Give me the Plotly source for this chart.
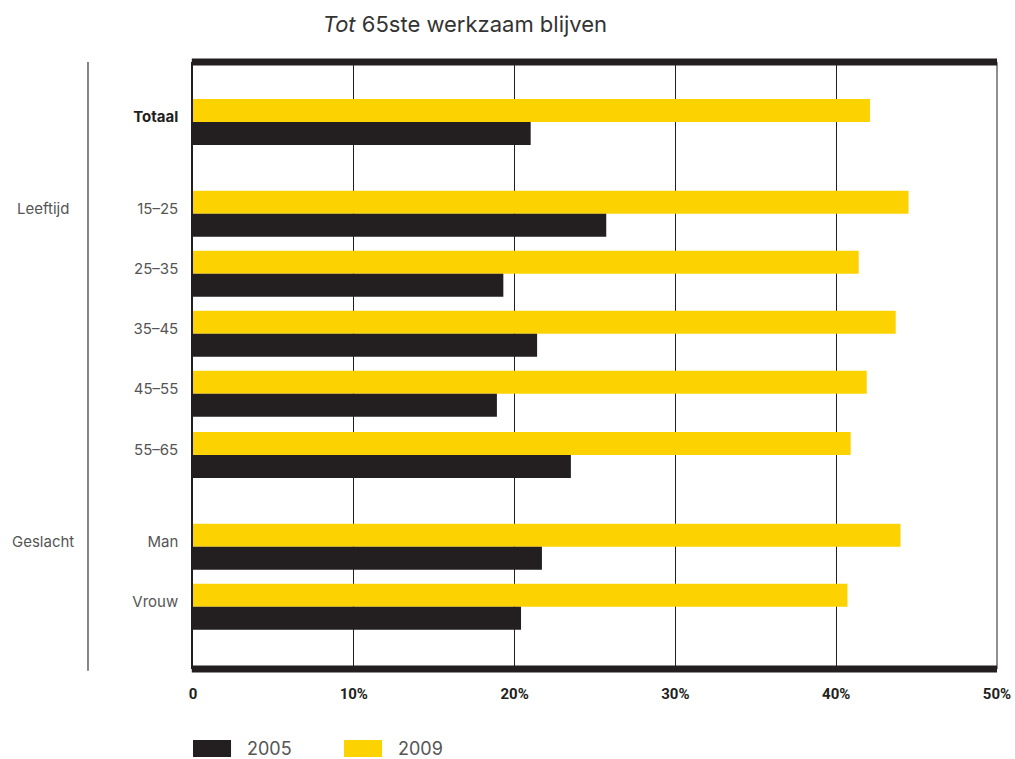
import plotly.graph_objects as go

categories = ["<span style='color:#231F20'><b>Totaal</b></span>", "15–25", "25–35", "35–45",
              "45–55", "55–65", "Man", "Vrouw"]
row_pos = [0.0, 1.53, 2.53, 3.53, 4.53, 5.55, 7.08, 8.08]
values_2005 = [21.0, 25.7, 19.3, 21.4, 18.9, 23.5, 21.7, 20.4]
values_2009 = [42.1, 44.5, 41.4, 43.7, 41.9, 40.9, 44.0, 40.7]
x_ticks = [0, 10, 20, 30, 40, 50]
x_tick_labels = ["0", "10%", "20%", "30%", "40%", "50%"]
groups = [("Leeftijd", 1.53), ("Geslacht", 7.08)]
series_names = ["2005", "2009"]

BLACK = "#231F20"
YELLOW = "#FCD200"
GREY = "#555555"
FONT = "Inter, Roboto, sans-serif"
BW = 0.383

fig = go.Figure()
fig.add_trace(go.Bar(y=row_pos, x=values_2009, orientation="h", name=series_names[1],
                     marker=dict(color=YELLOW, line=dict(width=0)), width=BW, offset=-BW))
fig.add_trace(go.Bar(y=row_pos, x=values_2005, orientation="h", name=series_names[0],
                     marker=dict(color=BLACK, line=dict(width=0)), width=BW, offset=0))

fig.update_layout(
    width=1015, height=759,
    margin=dict(l=193, r=18, t=62, b=90),
    paper_bgcolor="white", plot_bgcolor="white",
    showlegend=False,
    barmode="overlay",
    font=dict(family=FONT, color=GREY, size=15),
    title=dict(text="<i>Tot</i> 65ste werkzaam blijven", x=0.458, xanchor="center",
               y=1 - 24 / 759, yanchor="middle", yref="container",
               font=dict(family=FONT, size=22, color="#333333")),
)
fig.update_xaxes(range=[0, 50], tickvals=x_ticks, ticktext=x_tick_labels, automargin=False,
                 showgrid=True, gridcolor=BLACK, gridwidth=1, zeroline=False,
                 showline=False, ticks="", ticklabelstandoff=14,
                 tickfont=dict(family="Roboto, sans-serif", size=15, color=BLACK, weight="bold"))
fig.update_yaxes(range=[9.117, -1.0], tickvals=row_pos, ticktext=categories, automargin=False,
                 showgrid=False, zeroline=False, showline=True, linecolor=BLACK, linewidth=1.5,
                 ticks="", ticklabelstandoff=10, ticklabelshift=5,
                 tickfont=dict(family=FONT, size=15, color=GREY))

# frame: thick top & bottom, thin right edge
fig.add_shape(type="line", xref="paper", yref="paper", x0=-0.0015, x1=1.0, y0=1, y1=1,
              line=dict(color=BLACK, width=7))
fig.add_shape(type="line", xref="paper", yref="paper", x0=-0.0015, x1=1.0, y0=0, y1=0,
              line=dict(color=BLACK, width=7))
fig.add_shape(type="line", xref="paper", yref="paper", x0=1, x1=1, y0=0, y1=1,
              line=dict(color=BLACK, width=1))
# group separator line
fig.add_shape(type="line", xref="paper", yref="paper", x0=-0.1306, x1=-0.1306, y0=-0.003, y1=1.0,
              line=dict(color="#444444", width=1.3))

for name, pos in groups:
    fig.add_annotation(text=name, xref="paper", yref="y", x=-0.1866, y=pos, yshift=5,
                       xanchor="center", yanchor="middle", showarrow=False,
                       font=dict(family=FONT, size=15, color=GREY))

# legend (manual)
legend_items = [(series_names[0], BLACK, 0.0), (series_names[1], YELLOW, 0.1878)]
for name, col, x0 in legend_items:
    fig.add_shape(type="rect", xref="paper", yref="paper", x0=x0, x1=x0 + 0.0473,
                  y0=-0.145, y1=-0.117, line=dict(width=0), fillcolor=col)
    fig.add_annotation(text=name, xref="paper", yref="paper", x=x0 + 0.0647, y=-0.131,
                       xanchor="left", yanchor="middle", showarrow=False,
                       font=dict(family=FONT, size=18, color=GREY))

fig.write_html("out.html", config={"displayModeBar": False},
               post_script="document.body.style.margin='0';document.body.style.overflow='hidden';")
